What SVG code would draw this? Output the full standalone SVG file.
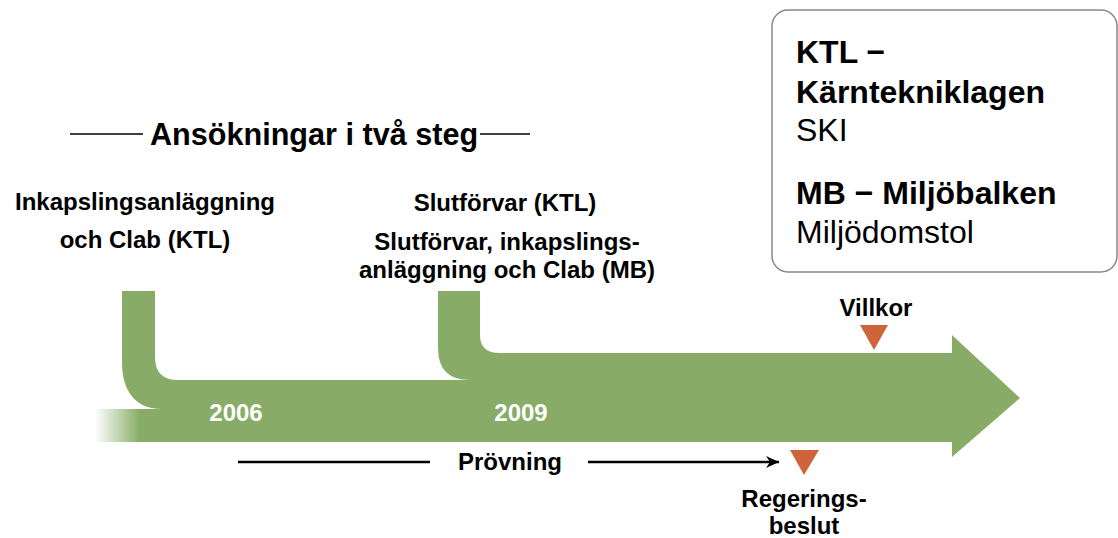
<svg xmlns="http://www.w3.org/2000/svg" width="1118" height="538" viewBox="0 0 1118 538">
<style>
.b{font-family:"Liberation Sans",Arial,sans-serif;font-weight:bold;fill:#000}
.r{font-family:"Liberation Sans",Arial,sans-serif;fill:#000}
.lbl{font-size:24px;text-anchor:middle}
.yr{font-family:"Liberation Sans",Arial,sans-serif;font-weight:bold;font-size:24px;fill:#fff;text-anchor:middle}
.box{font-size:32px}
.tri{fill:#cf643a}
.ln{stroke:#000;stroke-width:2.5;fill:none}
.tl{stroke:#000;stroke-width:1.5;fill:none}
</style>
<defs>
<linearGradient id="fade" x1="95" y1="0" x2="140" y2="0" gradientUnits="userSpaceOnUse">
<stop offset="0" stop-color="#88ac67" stop-opacity="0"/>
<stop offset="1" stop-color="#88ac67" stop-opacity="1"/>
</linearGradient>
<marker id="ah" markerWidth="14" markerHeight="12" refX="13" refY="6" orient="auto" markerUnits="userSpaceOnUse">
<path d="M0,0 L13,6 L0,12 L4,6 Z" fill="#000"/>
</marker>
</defs>
<rect width="1118" height="538" fill="#fff"/>
<g id="flow">
<rect x="95" y="409" width="70" height="33" fill="url(#fade)"/>
<path d="M122,291 L155,291 L155,357 Q155,380 178,380 L470,380 Q438,380 438,348 L438,291 L480,291 L480,335 Q480,353 500,353 L952,353 L952,335 L1020,398 L952,457 L952,442 L150,442 L150,409 L162,409 C136,409 122,392 122,362 Z" fill="#88ac67"/>
<text class="yr" x="236" y="421">2006</text>
<text class="yr" x="521" y="421">2009</text>
</g>
<g id="title">
<line class="tl" x1="70" y1="134" x2="143" y2="134"/>
<text class="b" x="150" y="145" font-size="30.6">Ansökningar i två steg</text>
<line class="tl" x1="480" y1="134" x2="530" y2="134"/>
</g>
<g id="step1">
<text class="b lbl" x="145" y="210">Inkapslingsanläggning</text>
<text class="b lbl" x="145" y="248">och Clab (KTL)</text>
</g>
<g id="step2">
<text class="b lbl" x="505" y="211">Slutförvar (KTL)</text>
<text class="b lbl" x="507" y="250">Slutförvar, inkapslings-</text>
<text class="b lbl" x="507" y="278">anläggning och Clab (MB)</text>
</g>
<g id="villkor">
<text class="b lbl" x="876" y="316">Villkor</text>
<polygon class="tri" points="860,325 888,325 874,350"/>
</g>
<g id="regeringsbeslut">
<polygon class="tri" points="790,450 819,450 804,475"/>
<text class="b lbl" x="804" y="507">Regerings-</text>
<text class="b lbl" x="804" y="534">beslut</text>
</g>
<g id="connectors">
<line class="ln" x1="238" y1="462" x2="430" y2="462"/>
<line class="ln" x1="588" y1="462" x2="779" y2="462" marker-end="url(#ah)"/>
</g>
<g id="provning">
<text class="b lbl" x="510" y="470">Prövning</text>
</g>
<g id="legend">
<rect x="772" y="10" width="345" height="262" rx="16" fill="#fff" stroke="#888" stroke-width="1.5"/>
<text class="b box" x="796" y="63">KTL −</text>
<text class="b box" x="796" y="103">Kärntekniklagen</text>
<text class="r box" x="796" y="141">SKI</text>
<text class="b box" x="796" y="204">MB − Miljöbalken</text>
<text class="r box" x="796" y="243">Miljödomstol</text>
</g>
</svg>
